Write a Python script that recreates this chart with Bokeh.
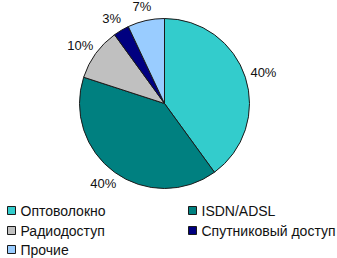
import math
from bokeh.plotting import figure
from bokeh.models import Range1d, ColumnDataSource
from bokeh.core.properties import value
from bokeh.embed import file_html
from bokeh.resources import INLINE

categories = ["Оптоволокно", "ISDN/ADSL", "Радиодоступ", "Спутниковый доступ", "Прочие"]
shares = [40, 40, 10, 3, 7]
labels = ["40%", "40%", "10%", "3%", "7%"]
colors = ["#33CCCC", "#008080", "#C0C0C0", "#000080", "#99CCFF"]

W, H = 337, 258
p = figure(width=W, height=H, output_backend="svg", toolbar_location=None,
           x_range=Range1d(0, W), y_range=Range1d(0, H), min_border=0)
p.axis.visible = False
p.grid.visible = False
p.outline_line_color = None
p.background_fill_color = "white"

cx, cy, r = 164, H - 103, 85
gap, hw, hh = 7, 12, 7
total = sum(shares)
starts, ends, lx, ly = [], [], [], []
cum = 0
for s in shares:
    a0 = cum / total * 2 * math.pi
    a1 = (cum + s) / total * 2 * math.pi
    starts.append(math.pi / 2 - a1)
    ends.append(math.pi / 2 - a0)
    mid = (a0 + a1) / 2
    sx, sy = math.sin(mid), math.cos(mid)
    lx.append(cx + (r + gap) * sx + hw * sx)
    ly.append(cy + (r + gap) * sy + hh * sy)
    cum += s

src = ColumnDataSource(dict(start=starts, end=ends, color=colors, lx=lx, ly=ly, label=labels))
p.wedge(x=cx, y=cy, radius=r, start_angle="start", end_angle="end", direction="anticlock",
        fill_color="color", line_color="#1a1a1a", line_width=1, source=src)
p.text(x="lx", y="ly", text="label", source=src, text_align="center", text_baseline="middle",
       text_font=value("Liberation Sans"), text_font_size="13px", text_color="#111111")

# legend
col_x = [11, 192]
row_y = [H - 210, H - 230, H - 249]
leg_x, leg_y = [], []
for i in range(len(categories)):
    leg_x.append(col_x[i % 2])
    leg_y.append(row_y[i // 2])
lsrc = ColumnDataSource(dict(x=leg_x, y=leg_y, tx=[v + 9 for v in leg_x], name=categories, color=colors))
p.scatter(x="x", y="y", marker="square", size=8, fill_color="color", line_color="#1a1a1a",
          line_width=1, source=lsrc)
p.text(x="tx", y="y", text="name", source=lsrc, text_align="left", text_baseline="middle",
       text_font=value("Liberation Sans"), text_font_size="14px", text_color="#111111")

open("out.html", "w").write(file_html(p, INLINE))
